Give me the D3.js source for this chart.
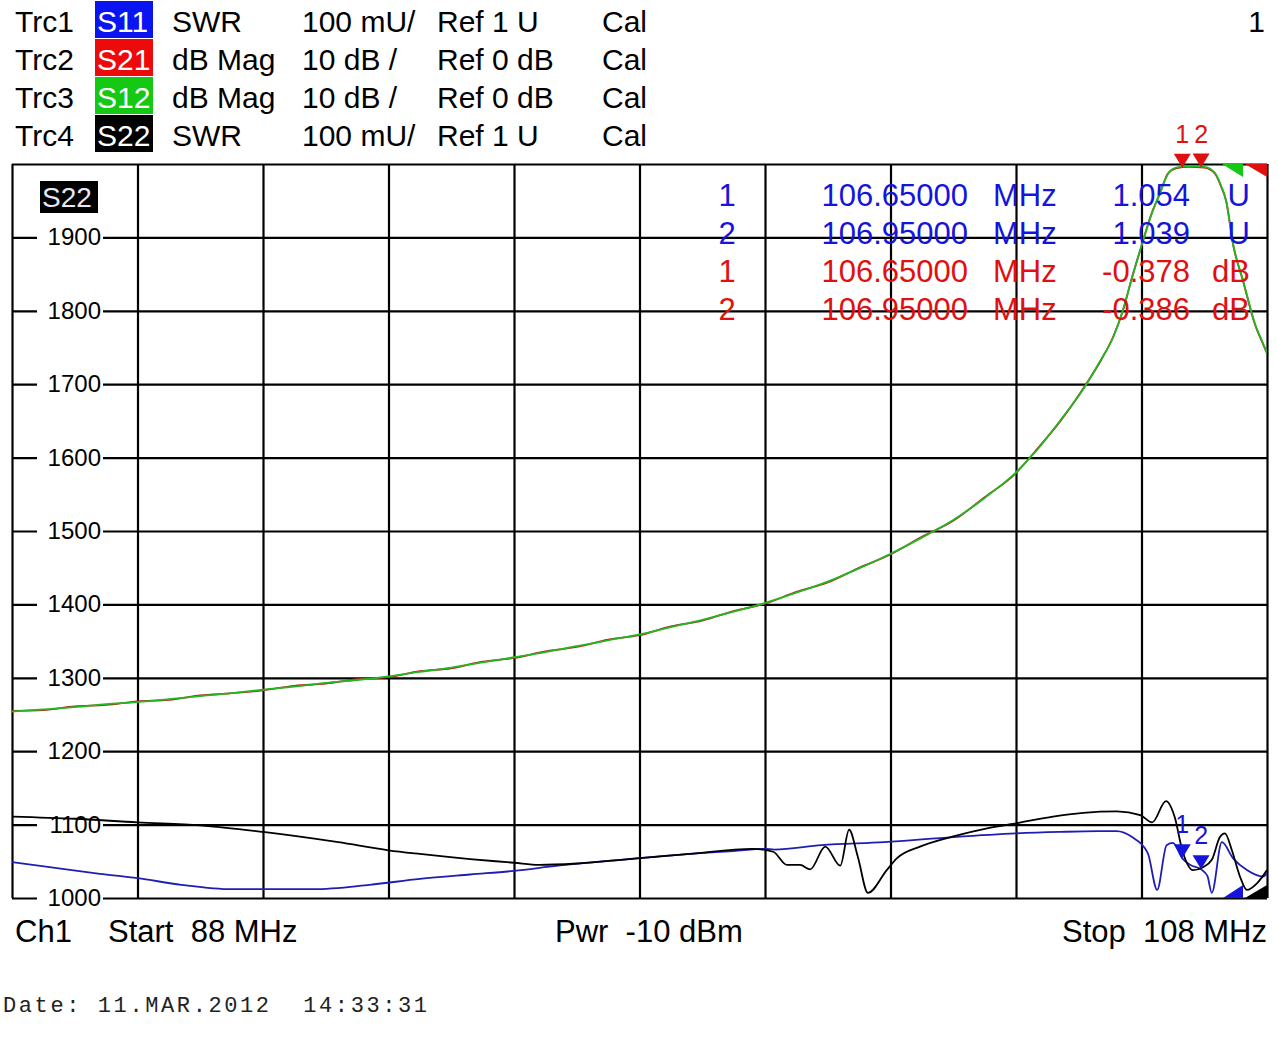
<!DOCTYPE html>
<html>
<head>
<meta charset="utf-8">
<script src="https://cdn.jsdelivr.net/npm/d3@7/dist/d3.min.js"></script>
<style>
  body { margin: 0; background: #fff; }
  text { font-family: "Liberation Sans", Arial, sans-serif; }
</style>
</head>
<body>
<svg id="svg" width="1278" height="1052"></svg>
<script>
// Axis ticks
var freqTicks = [88, 90, 92, 94, 96, 98, 100, 102, 104, 106, 108]
var levelGrid = [1000, 1100, 1200, 1300, 1400, 1500, 1600, 1700, 1800, 1900, 2000]
var levelLabels = [1000, 1100, 1200, 1300, 1400, 1500, 1600, 1700, 1800, 1900]

// Trace header rows
var traceNames = ["Trc1", "Trc2", "Trc3", "Trc4"]
var traceParams = ["S11", "S21", "S12", "S22"]
var traceFormats = ["SWR", "dB Mag", "dB Mag", "SWR"]
var traceScales = ["100 mU/", "10 dB /", "10 dB /", "100 mU/"]
var traceRefs = ["Ref 1 U", "Ref 0 dB", "Ref 0 dB", "Ref 1 U"]
var traceCal = ["Cal", "Cal", "Cal", "Cal"]
var boxColors = ["#0a14f0", "#ec0a0a", "#14c814", "#000000"]

// S12 (green), display units
var s12Freq = [88.0, 88.5, 89.0, 89.5, 90.0, 90.5, 91.0, 91.5, 92.0, 92.5, 93.0, 93.5, 94.0, 94.5, 95.0, 95.5, 96.0, 96.5, 97.0, 97.5,
  98.0, 98.5, 99.0, 99.5, 100.0, 100.5, 101.0, 101.5, 102.0, 102.5, 103.0, 103.5, 104.0, 104.3, 104.7, 105.1, 105.35, 105.55, 105.7, 105.85,
  106.0, 106.15, 106.3, 106.42, 106.55, 106.75, 107.0, 107.17, 107.27, 107.35, 107.46, 107.62, 107.81, 107.94, 108.0]
var s12Level = [1254, 1257, 1260, 1264, 1267, 1271, 1275, 1279, 1284, 1288, 1293, 1297, 1302, 1308, 1314, 1321, 1328, 1335, 1343, 1351,
  1359, 1369, 1379, 1390, 1402, 1416, 1431, 1449, 1469, 1491, 1515, 1545, 1580, 1607, 1650, 1697, 1733, 1764, 1800, 1845,
  1889, 1929, 1962, 1986, 1995, 1997, 1996, 1988, 1970, 1950, 1891, 1841, 1782, 1755, 1743]

// S21 (red), nearly on top of S12
var s21Freq = s12Freq
var s21Level = [1255, 1256, 1261, 1263, 1268, 1270, 1276, 1279, 1283, 1289, 1292, 1298, 1301, 1309, 1313, 1322, 1327, 1336, 1342, 1352,
  1358, 1370, 1378, 1391, 1401, 1417, 1430, 1450, 1468, 1492, 1514, 1546, 1579, 1608, 1649, 1698, 1732, 1765, 1799, 1846,
  1888, 1930, 1961, 1987, 1994, 1996, 1995, 1987, 1969, 1949, 1890, 1840, 1781, 1754, 1742]

// S11 (blue)
var s11Freq = [88.0, 88.6, 89.4, 90.0, 90.7, 91.5, 92.8, 93.7, 94.5, 95.3, 96.0, 96.7, 97.7, 98.8, 99.5, 100.0, 100.15, 100.9, 101.9, 103.0,
  104.0, 104.7, 105.3, 105.6, 105.85, 106.1, 106.25, 106.4, 106.5, 106.65, 106.78, 106.95, 107.05, 107.12, 107.28, 107.46, 107.68, 107.94, 108.0]
var s11Level = [1049, 1042, 1033, 1027, 1018, 1012, 1012, 1018, 1026, 1032, 1037, 1044, 1052, 1060, 1064, 1067, 1066, 1072, 1076, 1083,
  1088, 1090, 1091, 1091, 1083, 1061, 1011, 1072, 1075, 1054, 1045, 1039, 1030, 1007, 1076, 1054, 1038, 1029, 1034]

// S22 (black)
var s22Freq = [88.0, 89.0, 90.0, 91.0, 92.0, 93.2, 94.0, 94.5, 95.3, 96.0, 96.4, 97.0, 97.7, 98.8, 99.8, 100.13, 100.35, 100.56, 100.72, 100.96,
  101.2, 101.34, 101.48, 101.64, 101.94, 102.1, 102.47, 103.0, 103.54, 104.02, 104.59, 105.07, 105.61, 105.98, 106.17, 106.39, 106.53, 106.65,
  106.82, 106.98, 107.12, 107.25, 107.33, 107.44, 107.57, 107.68, 107.84, 108.0]
var s22Level = [1111, 1108, 1103, 1099, 1090, 1076, 1065, 1060, 1053, 1048, 1045, 1047, 1052, 1060, 1067, 1063, 1045, 1045, 1039, 1070,
  1044, 1093, 1056, 1007, 1038, 1054, 1070, 1084, 1095, 1102, 1111, 1116, 1118, 1113, 1103, 1132, 1110, 1065,
  1038, 1042, 1052, 1083, 1088, 1065, 1029, 1011, 1020, 1038]

// Markers
var markerFreq = [106.65, 106.95]
var markerNames = ["1", "2"]
var s11MarkerValues = ["1.054", "1.039"]
var s21MarkerValues = ["-0.378", "-0.386"]

var svg = d3.select("#svg")

var x = d3.scaleLinear().domain([88, 108]).range([12, 1267])
var y = d3.scaleLinear().domain([1000, 2000]).range([898, 164])

var plotW = x.range()[1] - x.range()[0]
var plotH = y.range()[0] - y.range()[1]

// Grid with the axes
var gGrid = svg.append("g")
gGrid.append("g")
  .attr("transform", "translate(0," + y(1000) + ")")
  .call(d3.axisBottom(x).tickValues(freqTicks).tickSize(-plotH).tickFormat(""))
gGrid.append("g")
  .attr("transform", "translate(" + x(88) + ",0)")
  .call(d3.axisLeft(y).tickValues(levelGrid).tickSize(-plotW).tickFormat(""))
gGrid.selectAll(".domain").remove()
gGrid.selectAll(".tick line").attr("stroke", "#000").attr("stroke-width", 2.2)

// Level labels sit on the lines with a white patch
var labels = svg.append("g")
labels.selectAll("rect")
  .data(levelLabels)
  .enter().append("rect")
  .attr("x", 37).attr("width", 66)
  .attr("y", d => y(d) - 11).attr("height", 22)
  .attr("fill", "#fff")
labels.selectAll("text")
  .data(levelLabels)
  .enter().append("text")
  .attr("x", 101)
  .attr("y", d => y(d) + 8)
  .attr("text-anchor", "end")
  .attr("font-size", 24)
  .text(d => d)

// S22 tag in the top-left of the grid
svg.append("rect").attr("x", 40).attr("y", 181).attr("width", 58).attr("height", 32).attr("fill", "#000")
svg.append("text").attr("x", 42).attr("y", 207).attr("font-size", 28).attr("fill", "#e8e8f4").text("S22")

// Traces
svg.append("clipPath").attr("id", "plotClip")
  .append("rect").attr("x", x(88)).attr("y", y(2000)).attr("width", plotW).attr("height", plotH)

var line = d3.line()
  .x(d => x(d[0]))
  .y(d => y(d[1]))
  .curve(d3.curveMonotoneX)

function zipSeries(f, v) {
  return f.map((d, i) => [d, v[i]])
}

var traces = [
  { data: zipSeries(s11Freq, s11Level), color: "#1e1eb4" },
  { data: zipSeries(s21Freq, s21Level), color: "#c01e1e" },
  { data: zipSeries(s12Freq, s12Level), color: "#22b822" },
  { data: zipSeries(s22Freq, s22Level), color: "#000000" }
]

var gTraces = svg.append("g").attr("clip-path", "url(#plotClip)")
gTraces.selectAll("path")
  .data(traces)
  .enter().append("path")
  .attr("d", d => line(d.data))
  .attr("fill", "none")
  .attr("stroke", d => d.color)
  .attr("stroke-width", 1.8)
  .attr("stroke-linejoin", "round")

// Marker triangles (tip on the trace)
function valueAt(f, v, freq) {
  return d3.scaleLinear().domain(f).range(v)(freq)
}

function drawMarkers(f, v, color) {
  let g = svg.append("g")
  markerFreq.forEach((mf, i) => {
    let tx = x(mf), ty = y(valueAt(f, v, mf))
    g.append("path")
      .attr("d", "M" + (tx - 8.5) + "," + (ty - 14) + "L" + (tx + 8.5) + "," + (ty - 14) + "L" + tx + "," + ty + "Z")
      .attr("fill", color)
    g.append("text")
      .attr("x", tx).attr("y", ty - 25)
      .attr("text-anchor", "middle")
      .attr("font-size", 25)
      .attr("fill", color)
      .text(markerNames[i])
  })
}
drawMarkers(s11Freq, s11Level, "#1414dc")
drawMarkers(s21Freq, s21Level, "#e01010")

// Reference level indicators in the right corners
var xr = x.range()[1], yt = y(2000), yb = y(1000)
svg.append("path").attr("d", "M" + (xr - 45) + "," + yt + "H" + (xr - 24) + "V" + (yt + 13) + "Z").attr("fill", "#14c814")
svg.append("path").attr("d", "M" + (xr - 22) + "," + yt + "H" + xr + "V" + (yt + 13) + "Z").attr("fill", "#e01010")
svg.append("path").attr("d", "M" + (xr - 44) + "," + yb + "L" + (xr - 24) + "," + (yb - 13) + "V" + yb + "Z").attr("fill", "#1414dc")
svg.append("path").attr("d", "M" + (xr - 22) + "," + yb + "L" + xr + "," + (yb - 13) + "V" + yb + "Z").attr("fill", "#000")

// Marker readout table
var readout = svg.append("g").attr("font-size", 31)
var readRows = []
markerFreq.forEach((mf, i) => readRows.push({ n: markerNames[i], f: mf, v: s11MarkerValues[i], u: "U", c: "#1414dc" }))
markerFreq.forEach((mf, i) => readRows.push({ n: markerNames[i], f: mf, v: s21MarkerValues[i], u: "dB", c: "#e01010" }))
readRows.forEach((r, i) => {
  let by = 206 + i * 38
  readout.append("text").attr("x", 727).attr("y", by).attr("text-anchor", "middle").attr("fill", r.c).text(r.n)
  readout.append("text").attr("x", 968).attr("y", by).attr("text-anchor", "end").attr("fill", r.c).text(d3.format(".5f")(r.f))
  readout.append("text").attr("x", 993).attr("y", by).attr("fill", r.c).text("MHz")
  readout.append("text").attr("x", 1190).attr("y", by).attr("text-anchor", "end").attr("fill", r.c).text(r.v)
  readout.append("text").attr("x", 1250).attr("y", by).attr("text-anchor", "end").attr("fill", r.c).text(r.u)
})

// Header
var header = svg.append("g").attr("font-size", 30)
traceNames.forEach((t, i) => {
  let by = 32 + i * 38
  header.append("text").attr("x", 15).attr("y", by).text(t)
  header.append("rect").attr("x", 95).attr("y", i * 38 + 1).attr("width", 58).attr("height", 37).attr("fill", boxColors[i])
  header.append("text").attr("x", 97).attr("y", by).attr("fill", "#fff").text(traceParams[i])
  header.append("text").attr("x", 172).attr("y", by).text(traceFormats[i])
  header.append("text").attr("x", 302).attr("y", by).text(traceScales[i])
  header.append("text").attr("x", 437).attr("y", by).text(traceRefs[i])
  header.append("text").attr("x", 602).attr("y", by).text(traceCal[i])
})
header.append("text").attr("x", 1265).attr("y", 32).attr("text-anchor", "end").text("1")

// Footer (double blanks kept with nbsp)
var nb = "\u00a0"
var footer = svg.append("g").attr("font-size", 31)
footer.append("text").attr("x", 15).attr("y", 942).text("Ch1")
footer.append("text").attr("x", 108).attr("y", 942).text("Start" + nb + nb + freqTicks[0] + " MHz")
footer.append("text").attr("x", 555).attr("y", 942).text("Pwr" + nb + nb + "-10 dBm")
footer.append("text").attr("x", 1267).attr("y", 942).attr("text-anchor", "end").text("Stop" + nb + nb + freqTicks[freqTicks.length - 1] + " MHz")

svg.append("text")
  .attr("x", 3).attr("y", 1012)
  .style("font-family", "'Liberation Mono', 'Courier New', monospace")
  .attr("font-size", 22)
  .attr("letter-spacing", 2.6)
  .attr("fill", "#222")
  .text("Date: 11.MAR.2012" + nb + nb + "14:33:31")
</script>
</body>
</html>
